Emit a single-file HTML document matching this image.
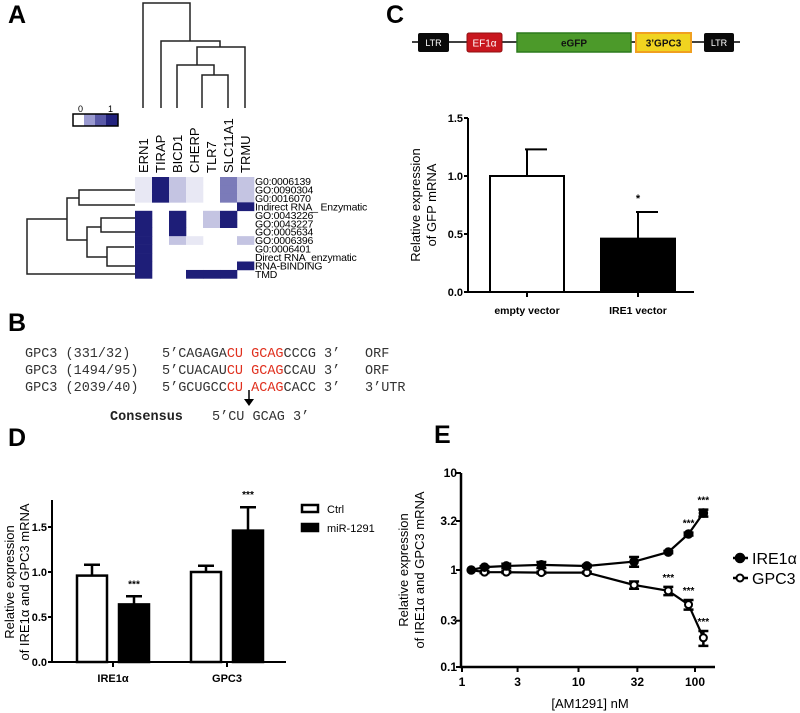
<!DOCTYPE html>
<html><head><meta charset="utf-8"><style>
html,body{margin:0;padding:0;background:#fff;}
svg{display:block;font-family:"Liberation Sans",Arial,sans-serif;}
</style></head><body>
<svg id="fig" width="800" height="713" viewBox="0 0 800 713" xmlns="http://www.w3.org/2000/svg">
<text x="8" y="23" font-size="25" font-weight="bold">A</text>
<text x="386" y="23" font-size="25" font-weight="bold">C</text>
<text x="8" y="331" font-size="25" font-weight="bold">B</text>
<text x="8" y="446" font-size="25" font-weight="bold">D</text>
<text x="434" y="443" font-size="25" font-weight="bold">E</text>

<g stroke="#222" stroke-width="1.5" fill="none">
<path d="M143,108 V3 H190 V41"/>
<path d="M161,108 V41 H220 V47"/>
<path d="M197,65 V47 H245 V108"/>
<path d="M177,108 V65 H214 V75"/>
<path d="M202,108 V75 H228 V108"/>
</g>
<g stroke="#222" stroke-width="1.5" fill="none">
<path d="M135,274 H27 V219 H67"/>
<path d="M79,198 H67 V240 H87"/>
<path d="M135,190 H79 V205 H135"/>
<path d="M101,227 H87 V257 H107"/>
<path d="M135,218 H101 V232 H135"/>
<path d="M134,247 H107 V266 H135"/>
</g>
<g>
<rect x="73" y="114" width="11" height="12" fill="#fff"/>
<rect x="84" y="114" width="11" height="12" fill="#9a9ad0"/>
<rect x="95" y="114" width="11" height="12" fill="#5a5aa8"/>
<rect x="106" y="114" width="12" height="12" fill="#23237e"/>
<rect x="73" y="114" width="45" height="12" fill="none" stroke="#000" stroke-width="1.5"/>
<text x="78" y="112" font-size="9">0</text>
<text x="108" y="112" font-size="9">1</text>
</g>
<g id="heatmap"></g>

<g font-family="'Liberation Mono','Courier New',monospace" font-size="13.5" fill="#333">
<text x="25" y="357">GPC3 (331/32)</text>
<text x="162" y="357">5’CAGAGA<tspan fill="#e0301e">CU GCAG</tspan>CCCG 3’</text>
<text x="365" y="357">ORF</text>
<text x="25" y="374">GPC3 (1494/95)</text>
<text x="162" y="374">5’CUACAU<tspan fill="#e0301e">CU GCAG</tspan>CCAU 3’</text>
<text x="365" y="374">ORF</text>
<text x="25" y="391">GPC3 (2039/40)</text>
<text x="162" y="391">5’GCUGCC<tspan fill="#e0301e">CU ACAG</tspan>CACC 3’</text>
<text x="365" y="391">3’UTR</text>
<text x="110" y="420" font-weight="bold" fill="#222">Consensus</text>
<text x="212" y="420">5’CU GCAG 3’</text>
</g>
<line x1="249" y1="390" x2="249" y2="400" stroke="#000" stroke-width="1.5"/>
<polygon points="244,399 254,399 249,406" fill="#000"/>

<g>
<line x1="412" y1="42" x2="740" y2="42" stroke="#000" stroke-width="1.5"/>
<rect x="418" y="33" width="31" height="19" rx="2" fill="#0a0a0a"/>
<text x="433.5" y="46" font-size="9" fill="#fff" text-anchor="middle">LTR</text>
<rect x="467" y="33" width="35" height="19" rx="2" fill="#c8161e" stroke="#901010"/>
<text x="484.5" y="46.5" font-size="10" fill="#fff" text-anchor="middle">EF1α</text>
<rect x="517" y="33" width="114" height="19" fill="#4c9a2a" stroke="#2c7a1c" stroke-width="1.5"/>
<text x="574" y="46.5" font-size="10" font-weight="bold" fill="#111" text-anchor="middle">eGFP</text>
<rect x="636" y="33" width="55" height="19" fill="#f0d420" stroke="#f0a020" stroke-width="2"/>
<text x="663.5" y="46.5" font-size="10" font-weight="bold" fill="#111" text-anchor="middle">3’GPC3</text>
<rect x="704" y="33" width="30" height="19" rx="2" fill="#0a0a0a"/>
<text x="719" y="46" font-size="9" fill="#fff" text-anchor="middle">LTR</text>
</g>
<g id="chartC"></g>
<g id="chartD"></g>
<g id="chartE"></g>
</svg>
<script>
const hmCols = ['ERN1','TIRAP','BICD1','CHERP','TLR7','SLC11A1','TRMU'];
const hmRows = ['G0:0006139','GO:0090304','G0:0016070','Indirect RNA_ Enzymatic','GO:0043226','GO:0043227','GO:0005634','GO:0006396','G0:0006401','Direct RNA_enzymatic','RNA-BINDING','TMD'];
const hmLevels = [
 [1,4,2,1,0,3,2],[1,4,2,1,0,3,2],[1,4,2,1,0,3,2],
 [0,0,0,0,0,0,4],
 [4,0,4,0,2,4,0],[4,0,4,0,2,4,0],
 [4,0,4,0,0,0,0],
 [4,0,2,1,0,0,2],
 [4,0,0,0,0,0,0],[4,0,0,0,0,0,0],
 [4,0,0,0,0,0,4],
 [4,0,0,4,4,4,0]
];
const cCats = ['empty vector','IRE1 vector'];
const cVals = [1.0, 0.46];
const cErr = [0.23, 0.23];
const cTicks = [0, 0.5, 1.0, 1.5];
const cSig = ['', '*'];
const dGroups = ['IRE1α','GPC3'];
const dCtrl = [0.96, 1.0];
const dCtrlErr = [0.12, 0.07];
const dMir = [0.64, 1.46];
const dMirErr = [0.09, 0.26];
const dTicks = [0, 0.5, 1.0, 1.5];
const dSeries = ['Ctrl','miR-1291'];
const eConc = [1.2, 1.56, 2.4, 4.8, 11.8, 30, 59, 88, 118];
const eIre = [1.0, 1.07, 1.1, 1.13, 1.1, 1.22, 1.53, 2.35, 3.87];
const eIreErr = [0, 0.02, 0.06, 0.08, 0.03, 0.14, 0.04, 0.08, 0.32];
const eGpc = [1.0, 0.95, 0.95, 0.94, 0.94, 0.70, 0.61, 0.44, 0.20];
const eGpcErr = [0, 0.02, 0.02, 0.02, 0.02, 0.06, 0.06, 0.05, 0.035];
const eIreSig = ['','','','','','','','***','***'];
const eGpcSig = ['','','','','','','***','***','***'];
const eYTicks = [0.1, 0.3, 1, 3.2, 10];
const eYTickLabels = ['0.1','0.3','1','3.2','10'];
const eXTicks = [1, 3, 10, 32, 100];

const NS = 'http://www.w3.org/2000/svg';
function mk(parent, tag, attrs, txt) {
  const e = document.createElementNS(NS, tag);
  for (const k in attrs) e.setAttribute(k, attrs[k]);
  if (txt !== undefined) e.textContent = txt;
  parent.appendChild(e);
  return e;
}

(function(){
  const g = document.getElementById('heatmap');
  const colors = ['#ffffff','#e8e8f4','#c4c4e2','#7b7bb9','#1e1e78'];
  const x0 = 135, cw = 17, y0 = 177, rh = 8.45;
  hmLevels.forEach((row, r) => {
    row.forEach((lv, c) => {
      if (!lv) return;
      const el = mk(g, 'rect', {x: x0 + c*cw, y: y0 + r*rh, width: cw + 0.3, height: rh + 0.3, fill: colors[lv]});
      
      
    });
  });
  hmCols.forEach((n, c) => {
    const cx = x0 + c*cw + cw/2 + 4.5;
    const t = mk(g, 'text', {x: cx, y: 173, 'font-size': 13, transform: 'rotate(-90 ' + cx + ' 173)'}, n);
    
    
  });
  hmRows.forEach((n, r) => {
    const t = mk(g, 'text', {x: 255, y: y0 + r*rh + rh/2 + 3.8, 'font-size': 10.5, 'letter-spacing': '-0.2'}, n);
    
    
  });
})();

(function(){
  const g = document.getElementById('chartC');
  const ax = 468, y0 = 292, ppu = 116;
  const y = v => y0 - v*ppu;
  const xc = [527, 638], bw = 74;
  cVals.forEach((v, i) => {
    const eb = mk(g, 'path', {d: 'M' + xc[i] + ',' + y(v) + ' V' + y(v + cErr[i]) + ' M' + (xc[i]-2) + ',' + y(v + cErr[i]) + ' H' + (xc[i]+20), stroke: '#000', 'stroke-width': 2, fill: 'none'});
    
    
    const b = mk(g, 'rect', {x: xc[i]-bw/2, y: y(v), width: bw, height: y0 - y(v), fill: i ? '#000' : '#fff', stroke: '#000', 'stroke-width': 2});
    
    
    if (cSig[i]) {
      const s = mk(g, 'text', {x: xc[i], y: y(v + cErr[i]) - 10, 'font-size': 11, 'font-weight': 'bold', 'text-anchor': 'middle'}, cSig[i]);
      
      
    }
    const l = mk(g, 'text', {x: xc[i], y: 314, 'font-size': 10.5, 'font-weight': 'bold', 'text-anchor': 'middle'}, cCats[i]);
    
    
    mk(g, 'line', {x1: xc[i], x2: xc[i], y1: y0, y2: y0 + 5, stroke: '#000', 'stroke-width': 2});
  });
  const axis = mk(g, 'path', {d: 'M' + ax + ',' + y(1.5) + ' V' + y0 + ' H694', stroke: '#000', 'stroke-width': 2, fill: 'none'});
  
  
  cTicks.forEach(t => {
    mk(g, 'line', {x1: ax - 4, x2: ax, y1: y(t), y2: y(t), stroke: '#000', 'stroke-width': 2});
    const tl = mk(g, 'text', {x: ax - 5, y: y(t) + 4, 'font-size': 11, 'font-weight': 'bold', 'text-anchor': 'end'}, t.toFixed(1));
    
    
  });
  const t1 = mk(g, 'text', {x: 420, y: 205, 'font-size': 13, 'text-anchor': 'middle', transform: 'rotate(-90 420 205)'}, 'Relative expression');
  
  
  mk(g, 'text', {x: 436, y: 205, 'font-size': 13, 'text-anchor': 'middle', transform: 'rotate(-90 436 205)'}, 'of GFP mRNA');
})();

(function(){
  const g = document.getElementById('chartD');
  const ax = 52, y0 = 662, ppu = 90;
  const y = v => y0 - v*ppu;
  const gx = [113, 227], bw = 30;
  function bar(cx, v, e, black, name, sig) {
    const eb = mk(g, 'path', {d: 'M' + cx + ',' + y(v) + ' V' + y(v + e) + ' M' + (cx-8) + ',' + y(v + e) + ' H' + (cx+8), stroke: '#000', 'stroke-width': 2.5, fill: 'none'});
    
    
    const b = mk(g, 'rect', {x: cx - bw/2, y: y(v), width: bw, height: y0 - y(v), fill: black ? '#000' : '#fff', stroke: '#000', 'stroke-width': 2.5});
    
    
    if (sig) {
      const s = mk(g, 'text', {x: cx, y: y(v + e) - 9, 'font-size': 10, 'font-weight': 'bold', 'text-anchor': 'middle'}, sig);
      
      
    }
  }
  dGroups.forEach((n, i) => {
    bar(gx[i] - 21, dCtrl[i], dCtrlErr[i], false, 'bar-ctrl-' + i, '');
    bar(gx[i] + 21, dMir[i], dMirErr[i], true, 'bar-mir1291-' + i, '***');
    mk(g, 'line', {x1: gx[i], x2: gx[i], y1: y0, y2: y0 + 5, stroke: '#000', 'stroke-width': 2});
    const l = mk(g, 'text', {x: gx[i], y: 682, 'font-size': 11, 'font-weight': 'bold', 'text-anchor': 'middle'}, n);
    
    
  });
  const axis = mk(g, 'path', {d: 'M' + ax + ',' + y(1.8) + ' V' + y0 + ' H286', stroke: '#000', 'stroke-width': 2, fill: 'none'});
  
  
  dTicks.forEach(t => {
    mk(g, 'line', {x1: ax - 4, x2: ax, y1: y(t), y2: y(t), stroke: '#000', 'stroke-width': 2});
    const tl = mk(g, 'text', {x: ax - 5, y: y(t) + 4, 'font-size': 11, 'font-weight': 'bold', 'text-anchor': 'end'}, t.toFixed(1));
    
    
  });
  const t1 = mk(g, 'text', {x: 14, y: 582, 'font-size': 13, 'text-anchor': 'middle', transform: 'rotate(-90 14 582)'}, 'Relative expression');
  
  
  mk(g, 'text', {x: 29, y: 582, 'font-size': 13, 'text-anchor': 'middle', transform: 'rotate(-90 29 582)'}, 'of IRE1α and GPC3 mRNA');
  dSeries.forEach((n, i) => {
    const ly = 505 + i*19;
    const r = mk(g, 'rect', {x: 302, y: ly, width: 16, height: 7, fill: i ? '#000' : '#fff', stroke: '#000', 'stroke-width': 2.5});
    
    
    const t = mk(g, 'text', {x: 327, y: ly + 8, 'font-size': 11}, n);
    
    
  });
})();

(function(){
  const g = document.getElementById('chartE');
  const x = c => 462 + Math.log10(c) * 116.5;
  const y = v => 667 - (Math.log10(v) + 1) * 97;
  const axis = mk(g, 'path', {d: 'M461,473 V667 H715', stroke: '#000', 'stroke-width': 2.5, fill: 'none'});
  
  
  eYTicks.forEach((t, i) => {
    mk(g, 'line', {x1: 456, x2: 461, y1: y(t), y2: y(t), stroke: '#000', 'stroke-width': 2});
    const tl = mk(g, 'text', {x: 457, y: y(t) + 4, 'font-size': 12, 'font-weight': 'bold', 'text-anchor': 'end'}, eYTickLabels[i]);
    
    
  });
  eXTicks.forEach(t => {
    mk(g, 'line', {x1: x(t), x2: x(t), y1: 667, y2: 672, stroke: '#000', 'stroke-width': 2});
    const tl = mk(g, 'text', {x: x(t), y: 686, 'font-size': 12, 'font-weight': 'bold', 'text-anchor': 'middle'}, String(t));
    
    
  });
  const xt = mk(g, 'text', {x: 590, y: 708, 'font-size': 13, 'text-anchor': 'middle'}, '[AM1291] nM');
  
  
  const t1 = mk(g, 'text', {x: 408, y: 570, 'font-size': 13, 'text-anchor': 'middle', transform: 'rotate(-90 408 570)'}, 'Relative expression');
  
  
  mk(g, 'text', {x: 424, y: 570, 'font-size': 13, 'text-anchor': 'middle', transform: 'rotate(-90 424 570)'}, 'of IRE1α and GPC3 mRNA');

  function series(vals, errs, sigs, open, name) {
    const d = vals.map((v, i) => (i ? 'L' : 'M') + x(eConc[i]).toFixed(1) + ',' + y(v).toFixed(1)).join(' ');
    const ln = mk(g, 'path', {d: d, stroke: '#000', 'stroke-width': 2.2, fill: 'none'});
    
    
    vals.forEach((v, i) => {
      const cx = x(eConc[i]);
      if (errs[i] > 0) {
        const yt = y(v + errs[i]), yb = y(v - errs[i]);
        const eb = mk(g, 'path', {d: 'M' + cx + ',' + yt + ' V' + yb + ' M' + (cx-5) + ',' + yt + ' H' + (cx+5) + ' M' + (cx-5) + ',' + yb + ' H' + (cx+5), stroke: '#000', 'stroke-width': 2.5, fill: 'none'});
        
        
      }
      const p = mk(g, 'circle', {cx: cx, cy: y(v), r: open ? 3.5 : 4.3, fill: open ? '#fff' : '#000', stroke: '#000', 'stroke-width': open ? 2 : 1});
      
      
      if (sigs[i]) {
        const s = mk(g, 'text', {x: cx, y: y(v + errs[i]) - 6, 'font-size': 10, 'font-weight': 'bold', 'text-anchor': 'middle'}, sigs[i]);
        
        
      }
    });
  }
  series(eGpc, eGpcErr, eGpcSig, true, 'gpc3');
  series(eIre, eIreErr, eIreSig, false, 'ire1a');

  const leg = [['IRE1α', false, 558], ['GPC3', true, 578]];
  leg.forEach(l => {
    mk(g, 'line', {x1: 733, x2: 748, y1: l[2], y2: l[2], stroke: '#000', 'stroke-width': 2.5});
    mk(g, 'circle', {cx: 740, cy: l[2], r: l[1] ? 3.5 : 4.3, fill: l[1] ? '#fff' : '#000', stroke: '#000', 'stroke-width': 2});
    const t = mk(g, 'text', {x: 752, y: l[2] + 6, 'font-size': 16}, l[0]);
    
    
  });
})();
</script>
</body></html>
